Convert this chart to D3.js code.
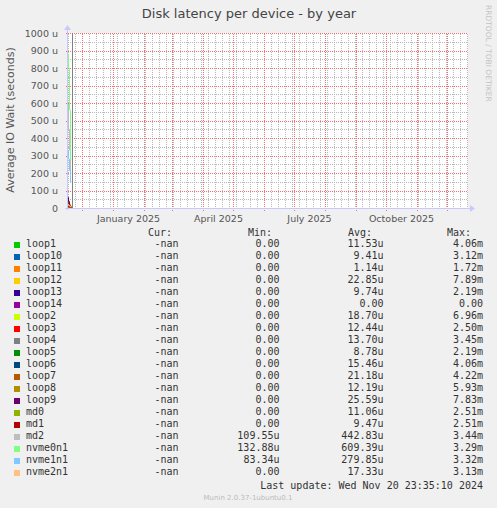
<!DOCTYPE html>
<html lang="en">
<head>
<meta charset="UTF-8">
<title>Disk latency per device - by year</title>
<script src="https://cdnjs.cloudflare.com/ajax/libs/d3/7.9.0/d3.min.js"></script>
<style>
  body{margin:0;background:#f0f0f0;}
  svg{display:block;font-family:"DejaVu Sans",sans-serif;}
  .mono{font-family:"DejaVu Sans Mono",monospace;font-size:10px;fill:#333;}
</style>
</head>
<body>
<div id="chart"></div>
<script>
/* ---------- Data (daily averages, in micro-seconds) ---------- */
const days = ["2024-11-16","2024-11-17","2024-11-18","2024-11-19","2024-11-20","2024-11-21","2024-11-22"];
const devices = ["loop1","loop10","loop11","loop12","loop13","loop14","loop2","loop3","loop4","loop5",
                 "loop6","loop7","loop8","loop9","md0","md1","md2","nvme0n1","nvme1n1","nvme2n1"];
const colors = ["#00cc00","#0066b3","#ff8000","#ffcc00","#330099","#990099","#ccff00","#ff0000","#808080","#008f00",
                "#00487d","#b35a00","#b38f00","#6b006b","#8fb300","#b30000","#bebebe","#80ff80","#80c9ff","#ffc080"];
const series = [
  [8,14,12,7,4,null,null],       // loop1
  [6,10,8,5,3,null,null],        // loop10
  [2,4,3,2,1,null,null],         // loop11
  [18,38,42,22,9,null,null],     // loop12
  [6,40,22,9,3,null,null],       // loop13
  [0,0,0,0,0,null,null],         // loop14
  [12,22,18,11,6,null,null],     // loop2
  [7,14,12,9,5,null,null],       // loop3
  [9,12,10,7,4,0,3450],          // loop4
  [5,9,8,6,3,null,null],         // loop5
  [10,16,14,9,5,null,null],      // loop6
  [14,28,32,18,8,null,null],     // loop7
  [8,13,12,8,4,null,null],       // loop8
  [12,61,36,14,5,null,null],     // loop9
  [7,12,10,7,4,null,null],       // md0
  [6,10,9,6,3,null,null],        // md1
  [610,590,450,330,200,null,null],  // md2
  [905,880,800,560,275,null,null],  // nvme0n1
  [366,330,280,215,150,null,null],  // nvme1n1
  [10,18,16,11,6,null,null]      // nvme2n1
];
const curVals = devices.map(() => "-nan");
const minVals = ["0.00","0.00","0.00","0.00","0.00","0.00","0.00","0.00","0.00","0.00",
                 "0.00","0.00","0.00","0.00","0.00","0.00","109.55u","132.88u","83.34u","0.00"];
const avgVals = ["11.53u","9.41u","1.14u","22.85u","9.74u","0.00","18.70u","12.44u","13.70u","8.78u",
                 "15.46u","21.18u","12.19u","25.59u","11.06u","9.47u","442.83u","609.39u","279.85u","17.33u"];
const maxVals = ["4.06m","3.12m","1.72m","7.89m","2.19m","0.00","6.96m","2.50m","3.45m","2.19m",
                 "4.06m","4.22m","5.93m","7.83m","2.51m","2.51m","3.44m","3.29m","3.32m","3.13m"];
const yTicks = [0,100,200,300,400,500,600,700,800,900,1000];
const yTickLabels = ["0","100 u","200 u","300 u","400 u","500 u","600 u","700 u","800 u","900 u","1000 u"];
const xLabelDates = ["2025-01-16","2025-04-16","2025-07-16","2025-10-16"];
const xLabels = ["January 2025","April 2025","July 2025","October 2025"];

/* ---------- Setup ---------- */
const W = 497, H = 508;
const plot = {left:67, right:468, top:33, bottom:208};
const parse = d3.utcParse("%Y-%m-%d");
const t0 = parse("2024-11-16"), t1 = d3.utcDay.offset(t0, 401);

const svg = d3.select("#chart").append("svg").attr("width",W).attr("height",H);
svg.append("rect").attr("width",W).attr("height",H).attr("fill","#f0f0f0");
svg.append("rect").attr("x",plot.left).attr("y",plot.top)
  .attr("width",plot.right-plot.left).attr("height",plot.bottom-plot.top).attr("fill","#fff");

const x = d3.scaleUtc().domain([t0,t1]).range([plot.left,plot.right]);
const y = d3.scaleLinear().domain([0,1000]).range([plot.bottom,plot.top]);
const px = v => Math.round(v)+.5;

/* ---------- Dotted grid: 1px rects filled with on/off pixel patterns ---------- */
const defs = svg.append("defs");
function dots(id, col, horiz){
  const p = defs.append("pattern").attr("id",id).attr("patternUnits","userSpaceOnUse")
    .attr("width",horiz?2:1).attr("height",horiz?1:2);
  p.append("rect").attr("width",1).attr("height",1).attr("fill",col);
}
dots("hMin","#b8b8b8",true); dots("vMin","#b8b8b8",false);
dots("hMaj","#f07070",true); dots("vMaj","#f07070",false);

const grid = svg.append("g").attr("shape-rendering","crispEdges");
const hLines = (vals, fill, x0) => grid.selectAll(null).data(vals).enter().append("rect")
  .attr("x",x0).attr("y",d=>Math.round(y(d))).attr("width",plot.right-x0).attr("height",1).attr("fill",fill);
const vLines = (vals, fill, y1) => grid.selectAll(null).data(vals).enter().append("rect")
  .attr("x",d=>Math.round(x(d))).attr("y",plot.top).attr("width",1).attr("height",y1-plot.top).attr("fill",fill);
hLines(d3.range(50,1001,100), "url(#hMin)", plot.left);
vLines(d3.utcSunday.range(t0,t1), "url(#vMin)", plot.bottom);
hLines(yTicks.slice(1), "url(#hMaj)", plot.left-2);
vLines(d3.utcMonth.range(d3.utcDay.offset(t0,1),t1), "url(#vMaj)", plot.bottom+3);

/* ---------- Lines (one pixel per day, rrdtool-like steps) ---------- */
svg.append("clipPath").attr("id","clip").append("rect")
  .attr("x",plot.left).attr("y",plot.top).attr("width",plot.right-plot.left).attr("height",plot.bottom-plot.top);
const line = d3.line().defined(d=>d[1]!=null).curve(d3.curveStepBefore)
  .x(d=>px(x(d[0]))).y(d=>y(d[1]));
svg.append("g").attr("clip-path","url(#clip)").selectAll("path")
  .data(series.map((s,i)=>({color:colors[i],pts:s.map((v,j)=>[parse(days[j]),v])})))
  .enter().append("path")
    .attr("d",d=>line(d.pts)).attr("fill","none")
    .attr("stroke",d=>d.color).attr("stroke-width",1);

/* ---------- Axes ---------- */
const axisCol = "#c8c8ff";
svg.append("line").attr("x1",plot.left-2).attr("x2",plot.right+2)
  .attr("y1",plot.bottom+.5).attr("y2",plot.bottom+.5).attr("stroke",axisCol);
svg.append("line").attr("x1",plot.left+.5).attr("x2",plot.left+.5)
  .attr("y1",plot.bottom+2).attr("y2",plot.top-3).attr("stroke",axisCol);
svg.append("path").attr("d",`M${plot.right+2},${plot.bottom-3}L${plot.right+7},${plot.bottom+.5}L${plot.right+2},${plot.bottom+4}Z`)
  .attr("fill",axisCol);
svg.append("path").attr("d",`M${plot.left-3},${plot.top-3}L${plot.left+.5},${plot.top-8}L${plot.left+4},${plot.top-3}Z`)
  .attr("fill",axisCol);

const yAxis = svg.append("g").attr("transform",`translate(${plot.left-6},0)`)
  .call(d3.axisLeft(y).tickValues(yTicks).tickSize(0).tickFormat((d,i)=>yTickLabels[i]));
yAxis.select(".domain").remove();
yAxis.selectAll("text").attr("font-family","DejaVu Sans").attr("font-size","9.5px").attr("fill","#555").attr("dy","0.34em");

const xAxis = svg.append("g").attr("transform",`translate(0,${plot.bottom+4})`)
  .call(d3.axisBottom(x).tickValues(xLabelDates.map(parse)).tickSize(0).tickFormat((d,i)=>xLabels[i]));
xAxis.select(".domain").remove();
xAxis.selectAll("text").attr("font-family","DejaVu Sans").attr("font-size","9.5px").attr("fill","#555");

/* ---------- Titles ---------- */
svg.append("text").attr("x",249).attr("y",18).attr("text-anchor","middle")
  .attr("font-size","13px").attr("fill","#444").text("Disk latency per device - by year");
svg.append("text").attr("transform","translate(14,120) rotate(-90)").attr("text-anchor","middle")
  .attr("font-size","11px").attr("fill","#555").text("Average IO Wait (seconds)");
svg.append("text").attr("transform","translate(486,5) rotate(90)").attr("text-anchor","start")
  .attr("font-size","7.5px").attr("fill","#c4c4c4").text("RRDTOOL / TOBI OETIKER");

/* ---------- Legend ---------- */
const colX = [178.5,279.5,383.5,483];
const hdr = [["Cur:",172],["Min:",272],["Avg:",372],["Max:",471]];
svg.selectAll(null).data(hdr).enter().append("text").attr("class","mono")
  .attr("x",d=>d[1]).attr("y",235.5).attr("text-anchor","end").text(d=>d[0]);

const rows = svg.selectAll(null).data(devices).enter().append("g")
  .attr("transform",(d,i)=>`translate(0,${247+12*i})`);
rows.append("rect").attr("x",14).attr("y",-5).attr("width",6).attr("height",6)
  .attr("fill",(d,i)=>colors[i]);
rows.append("text").attr("class","mono").attr("x",26).text(d=>d);
[curVals,minVals,avgVals,maxVals].forEach((col,c)=>{
  rows.append("text").attr("class","mono").attr("x",colX[c]).attr("text-anchor","end").text((d,i)=>col[i]);
});

svg.append("text").attr("class","mono").attr("x",483).attr("y",489).attr("text-anchor","end")
  .text("Last update: Wed Nov 20 23:35:10 2024");
svg.append("text").attr("x",248).attr("y",500).attr("text-anchor","middle")
  .attr("font-size","7px").attr("fill","#bbb").text("Munin 2.0.37-1ubuntu0.1");
</script>
</body>
</html>
